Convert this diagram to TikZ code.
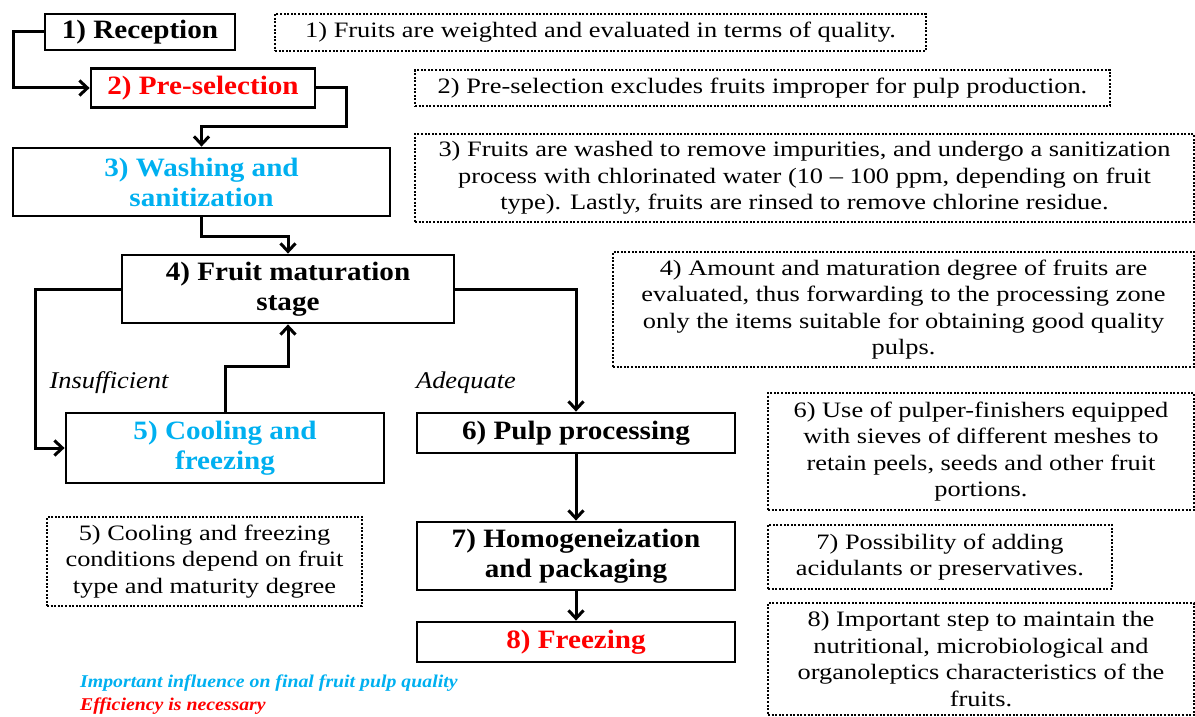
\documentclass[tikz,border=0pt]{standalone}
\usepackage{fontspec}
\setmainfont{Liberation Serif}
\newfontfamily\stagefont[FakeStretch=1.1,Ligatures=TeX]{Liberation Serif}
\newfontfamily\notefont[FakeStretch=1.2,Ligatures=TeX]{Liberation Serif}
\usepackage{xcolor}
\usetikzlibrary{arrows.meta,shapes}
\definecolor{stepblue}{RGB}{0,176,240}
\definecolor{stepred}{RGB}{255,0,0}

\begin{document}
\begin{tikzpicture}[x=1pt, y=-1pt, >={Straight Barb[length=8pt,width=15pt]},
stage node/.style={draw, line width=2.8pt, rectangle, align=center, inner sep=0pt, font=\stagefont\fontsize{26.5}{30}\selectfont\bfseries},
note node/.style={draw, dash pattern=on 2pt off 1.6pt, line width=2.6pt, rectangle, align=center, inner sep=0pt, font=\notefont\fontsize{22}{26.5}\selectfont},
label node/.style={font=\stagefont\fontsize{24}{26}\selectfont\itshape},
key node/.style={anchor=west, inner sep=0pt, font=\stagefont\fontsize{18}{20}\selectfont\bfseries\itshape},
flow/.style={->, line width=3pt}]
\useasboundingbox (0,0) rectangle (1195,717);

% process steps
\node[stage node, minimum width=190pt, minimum height=36pt] (recep) at (140,32) {1) Reception};
\node[stage node, minimum width=224pt, minimum height=39pt, text=stepred] (presel) at (203,88) {2) Pre-selection};
\node[stage node, minimum width=377pt, minimum height=68pt, text=stepblue] (wash) at (201.5,182) {3) Washing and\\sanitization};
\node[stage node, minimum width=332pt, minimum height=68pt] (matur) at (288,289) {4) Fruit maturation\\stage};
\node[stage node, minimum width=318pt, minimum height=70pt, text=stepblue] (cool) at (225,448) {5) Cooling and\\freezing};
\node[stage node, minimum width=318pt, minimum height=40pt] (pulp) at (576,433) {6) Pulp processing};
\node[stage node, minimum width=318pt, minimum height=68pt] (homog) at (576,556) {7) Homogeneization\\and packaging};
\node[stage node, minimum width=318pt, minimum height=40pt, text=stepred] (freez) at (576,642) {8) Freezing};

% notes
\node[note node, minimum width=651pt, minimum height=37pt] (n1) at (600.5,32.5) {1) Fruits are weighted and evaluated in terms of quality.};
\node[note node, minimum width=695pt, minimum height=36pt] (n2) at (762.5,88) {2) Pre-selection excludes fruits improper for pulp production.};
\node[note node, minimum width=779pt, minimum height=88pt] (n3) at (804.5,178) {3) Fruits are washed to remove impurities, and undergo a sanitization\\process with chlorinated water (10 \textendash{} 100 ppm, depending on fruit\\type). Lastly, fruits are rinsed to remove chlorine residue.};
\node[note node, minimum width=581pt, minimum height=115pt] (n4) at (903.5,309.5) {4) Amount and maturation degree of fruits are\\evaluated, thus forwarding to the processing zone\\only the items suitable for obtaining good quality\\pulps.};
\node[note node, minimum width=315pt, minimum height=89pt] (n5) at (204.5,561.5) {5) Cooling and freezing\\conditions depend on fruit\\type and maturity degree};
\node[note node, minimum width=426pt, minimum height=117pt] (n6) at (981,451.5) {6) Use of pulper-finishers equipped\\with sieves of different meshes to\\retain peels, seeds and other fruit\\portions.};
\node[note node, minimum width=344pt, minimum height=64pt] (n7) at (940,557) {7) Possibility of adding\\acidulants or preservatives.};
\node[note node, minimum width=426pt, minimum height=112pt] (n8) at (981,659) {8) Important step to maintain the\\nutritional, microbiological and\\organoleptics characteristics of the\\fruits.};

% branch labels and key
\node[label node] (insuf) at (109,383) {Insufficient};
\node[label node] (adeq) at (466,383) {Adequate};
\node[key node, text=stepblue] (key1) at (80,683) {Important influence on final fruit pulp quality};
\node[key node, text=stepred] (key2) at (80,706) {Efficiency is necessary};

% connectors
\draw[flow] (recep.west) -- ++(-30,0) |- (presel);
\draw[flow] (presel.east) -- ++(30,0) -- ++(0,38) -| (wash);
\draw[flow] (wash.south) -- ++(0,19) -| (matur);
\draw[flow] (matur.west) -- ++(-85,0) |- (cool);
\draw[flow] (cool.north) -- ++(0,-45) -| (matur.south);
\draw[flow] (matur.east) -| (pulp);
\draw[flow] (pulp) -- (homog);
\draw[flow] (homog) -- (freez);
\end{tikzpicture}
\end{document}
